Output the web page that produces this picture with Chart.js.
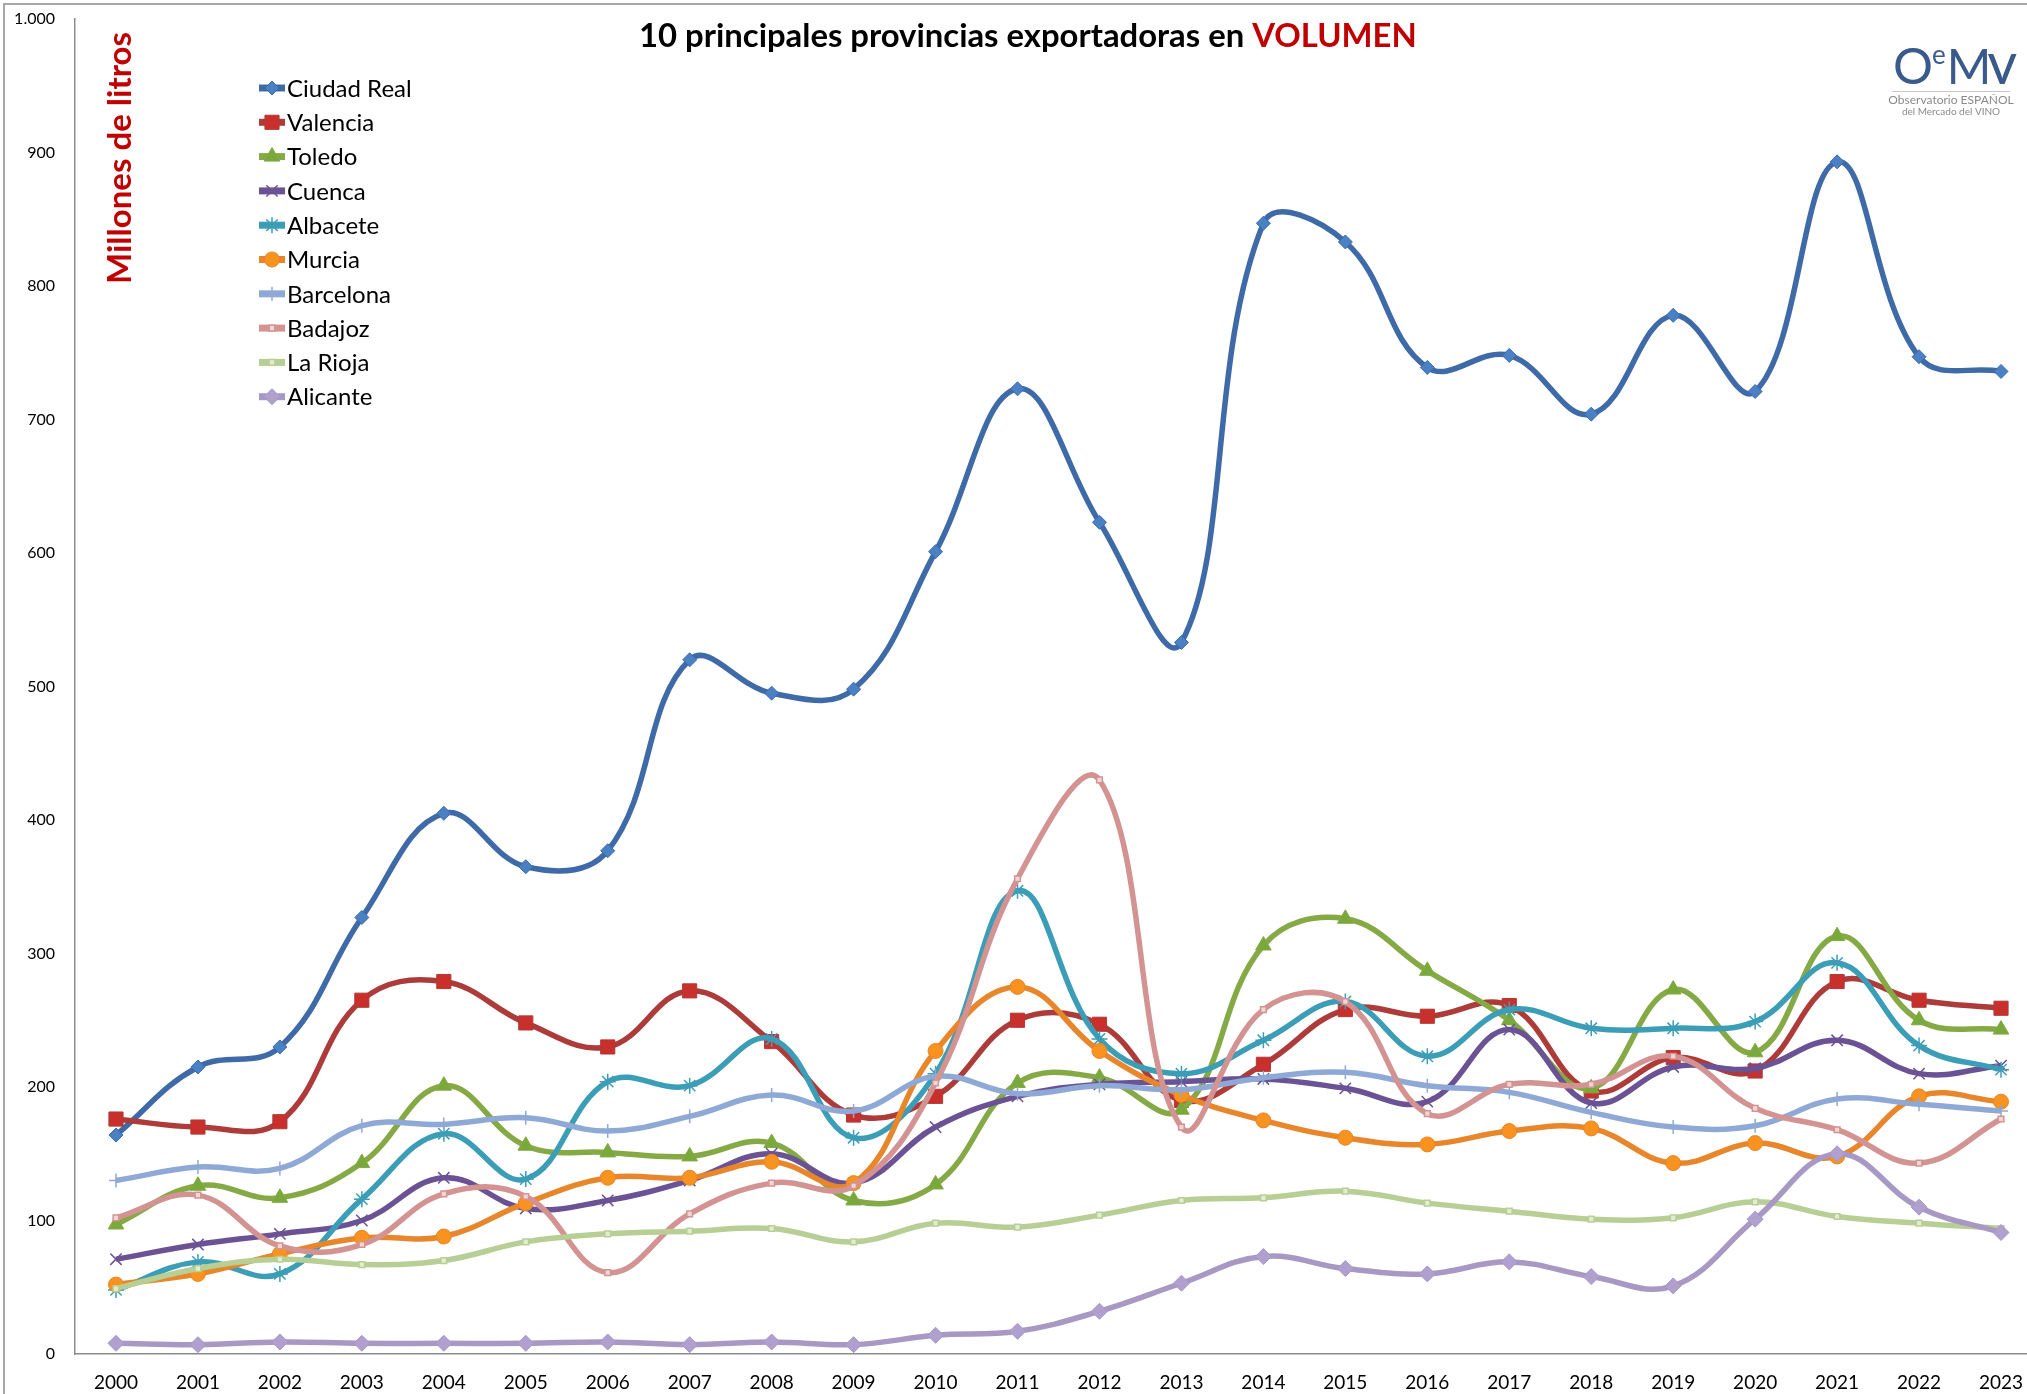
<!DOCTYPE html>
<html>
<head>
<meta charset="utf-8">
<script src="https://cdn.jsdelivr.net/npm/chart.js@4/dist/chart.umd.min.js"></script>
<style>
  html, body { margin: 0; padding: 0; background: #fff; overflow: hidden; }
  #wrap { position: absolute; left: 0; top: 0; width: 2053px; height: 1394px; }
</style>
</head>
<body>
<div id="wrap"><canvas id="chart"></canvas></div>
<script>
// años (eje X)
const years = ['2000','2001','2002','2003','2004','2005','2006','2007','2008','2009','2010','2011',
               '2012','2013','2014','2015','2016','2017','2018','2019','2020','2021','2022','2023'];

// millones de litros
const ciudadReal = [164, 215, 230, 327, 405, 365, 377, 520, 495, 498, 601, 723, 623, 533, 847, 833, 739, 748, 704, 778, 721, 893, 747, 736];
const valencia   = [176, 170, 174, 265, 279, 248, 230, 272, 234, 179, 193, 250, 247, 190, 217, 258, 253, 261, 197, 222, 212, 279, 265, 259];
const toledo     = [97, 126, 117, 143, 201, 156, 151, 148, 158, 115, 127, 203, 207, 183, 306, 326, 287, 250, 199, 273, 226, 313, 250, 243];
const cuenca     = [71, 82, 90, 100, 132, 109, 115, 130, 150, 128, 170, 193, 202, 204, 206, 199, 189, 243, 188, 215, 214, 235, 210, 216];
const albacete   = [48, 69, 60, 116, 165, 131, 204, 201, 236, 162, 210, 347, 236, 210, 235, 264, 223, 258, 244, 244, 249, 293, 231, 213];
const murcia     = [52, 60, 75, 87, 88, 113, 132, 132, 144, 128, 227, 275, 227, 194, 175, 162, 157, 167, 169, 143, 158, 148, 193, 189];
const barcelona  = [130, 140, 139, 171, 172, 177, 167, 178, 194, 182, 208, 195, 201, 198, 207, 211, 201, 196, 181, 170, 171, 191, 187, 182];
const badajoz    = [102, 119, 81, 82, 120, 118, 61, 105, 128, 126, 203, 356, 430, 170, 258, 264, 180, 202, 202, 223, 184, 168, 143, 176];
const laRioja    = [49, 64, 71, 67, 70, 84, 90, 92, 94, 84, 98, 95, 104, 115, 117, 122, 113, 107, 101, 102, 114, 103, 98, 94];
const alicante   = [8, 7, 9, 8, 8, 8, 9, 7, 9, 7, 14, 17, 32, 53, 73, 64, 60, 69, 58, 51, 101, 150, 110, 91];

const seriesNames  = ['Ciudad Real', 'Valencia', 'Toledo', 'Cuenca', 'Albacete', 'Murcia', 'Barcelona', 'Badajoz', 'La Rioja', 'Alicante'];
const seriesValues = [ciudadReal, valencia, toledo, cuenca, albacete, murcia, barcelona, badajoz, laRioja, alicante];

// estilo de cada serie (mismo orden que seriesNames)
const seriesStyle = [
  { line: '#3e6ba8', fill: '#4a80c4', shape: 'rectRot',  r: 7,   bw: 1 },
  { line: '#ad3b39', fill: '#c9302c', shape: 'rect',     r: 10,  bw: 1 },
  { line: '#84a945', fill: '#78a93a', shape: 'triangle', r: 9,   bw: 1 },
  { line: '#6a5294', fill: '#6a5294', shape: 'crossRot', r: 8,   bw: 1.5 },
  { line: '#3c9db7', fill: '#4aaccb', shape: 'star',     r: 8,   bw: 1.5 },
  { line: '#e8862c', fill: '#f7931e', shape: 'circle',   r: 7.5, bw: 1 },
  { line: '#8fa9d6', fill: '#8fa9d6', shape: 'cross',    r: 7,   bw: 1.5 },
  { line: '#d39392', fill: '#f2d6d6', shape: 'rect',     r: 4,   bw: 1.5 },
  { line: '#b7cf95', fill: '#e2edd0', shape: 'rect',     r: 4,   bw: 1.5 },
  { line: '#a898c4', fill: '#b0a0d0', shape: 'rectRot',  r: 8,   bw: 1 }
];

function fmtMiles(v) {
  if (v >= 1000) return Math.floor(v / 1000) + '.' + String(v % 1000).padStart(3, '0');
  return String(v);
}

const datasets = seriesNames.map((name, i) => ({
  label: name,
  data: seriesValues[i],
  borderColor: seriesStyle[i].line,
  backgroundColor: seriesStyle[i].fill,
  borderWidth: 5.5,
  tension: 0.4,
  pointStyle: seriesStyle[i].shape,
  pointRadius: seriesStyle[i].r,
  pointBackgroundColor: seriesStyle[i].fill,
  pointBorderColor: seriesStyle[i].line,
  pointBorderWidth: seriesStyle[i].bw,
  order: seriesNames.length - i,
  fill: false
}));

// titulo, eje Y, leyenda y logo dibujados a mano
const decor = {
  id: 'decor',
  beforeDraw(chart) {
    const ctx = chart.ctx;
    ctx.save();
    ctx.fillStyle = '#fff';
    ctx.fillRect(0, 0, chart.width, chart.height);
    ctx.strokeStyle = '#a6a6a6';
    ctx.lineWidth = 2;
    ctx.beginPath();
    ctx.moveTo(4, chart.height);
    ctx.lineTo(4, 4);
    ctx.lineTo(chart.width, 4);
    ctx.stroke();
    ctx.restore();
  },
  afterDraw(chart) {
    const ctx = chart.ctx;
    ctx.save();

    // titulo
    const t1 = '10 principales provincias exportadoras en ';
    const t2 = 'VOLUMEN';
    ctx.font = 'bold 100px Lato';
    const w100 = ctx.measureText(t1 + t2).width;
    const size = 100 * 778 / w100;
    ctx.font = 'bold ' + size + 'px Lato';
    const w1 = ctx.measureText(t1).width;
    const x0 = 639;
    ctx.textBaseline = 'alphabetic';
    ctx.textAlign = 'left';
    ctx.fillStyle = '#000';
    ctx.fillText(t1, x0, 47);
    ctx.fillStyle = '#c00000';
    ctx.fillText(t2, x0 + w1, 47);

    // titulo eje Y
    ctx.save();
    ctx.translate(131, 284);
    ctx.rotate(-Math.PI / 2);
    ctx.font = 'bold 33px Lato';
    ctx.fillStyle = '#c00000';
    ctx.fillText('Millones de litros', 0, 0);
    ctx.restore();

    // leyenda
    ctx.font = '24px Lato';
    ctx.textBaseline = 'middle';
    seriesNames.forEach((name, i) => {
      const st = seriesStyle[i];
      const y = 88 + i * 34.3;
      ctx.strokeStyle = st.line;
      ctx.lineWidth = 7;
      ctx.beginPath();
      ctx.moveTo(259, y);
      ctx.lineTo(285, y);
      ctx.stroke();
      ctx.fillStyle = st.fill;
      ctx.strokeStyle = st.line;
      ctx.lineWidth = st.bw;
      Chart.helpers.drawPoint(ctx, { pointStyle: st.shape, radius: st.r, borderWidth: st.bw, rotation: 0 }, 272, y);
      ctx.fillStyle = '#000';
      ctx.fillText(name, 287, y + 1);
    });

    // logo OeMv
    ctx.textBaseline = 'alphabetic';
    ctx.fillStyle = '#3a5a8c';
    ctx.font = '50px Lato';
    let lx = 1893;
    ctx.fillText('O', lx, 84);
    lx += ctx.measureText('O').width;
    ctx.font = '26px Lato';
    ctx.fillText('e', lx - 1, 64);
    lx += ctx.measureText('e').width;
    ctx.font = '48px Lato';
    ctx.fillText('M', lx, 84);
    lx += ctx.measureText('M').width - 4;
    ctx.font = '58px Lato';
    ctx.fillText('v', lx, 84);
    ctx.strokeStyle = '#c8c8c8';
    ctx.lineWidth = 1;
    ctx.beginPath();
    ctx.moveTo(1892, 91.5);
    ctx.lineTo(2010, 91.5);
    ctx.stroke();
    ctx.fillStyle = '#8a8a8a';
    ctx.textAlign = 'center';
    ctx.font = '12px Lato';
    ctx.fillText('Observatorio ESPAÑOL', 1951, 104);
    ctx.font = '10px Lato';
    ctx.fillText('del Mercado del VINO', 1951, 115);

    ctx.restore();
  }
};

function draw() {
  new Chart(document.getElementById('chart'), {
    type: 'line',
    data: { labels: years, datasets: datasets },
    options: {
      responsive: true,
      maintainAspectRatio: false,
      animation: false,
      layout: { padding: { top: 19, right: 4, bottom: 0, left: 0 } },
      plugins: {
        legend: { display: false },
        title: { display: false },
        tooltip: { enabled: false }
      },
      scales: {
        x: {
          offset: true,
          grid: { display: false, drawTicks: false },
          border: { display: true, color: '#8c8c8c', width: 1.5 },
          ticks: { color: '#000', font: { family: 'Lato', size: 19 }, padding: 17, maxRotation: 0, autoSkip: false },
          afterFit: s => { s.height = 40; s.paddingLeft = 0; s.paddingRight = 0; }
        },
        y: {
          min: 0,
          max: 1000,
          grid: { display: false, drawTicks: false },
          border: { display: true, color: '#8c8c8c', width: 1.5 },
          ticks: { stepSize: 100, color: '#000', font: { family: 'Lato', size: 16 }, padding: 20, callback: v => fmtMiles(v) },
          afterFit: s => { s.width = 75; s.paddingTop = 0; s.paddingBottom = 0; }
        }
      }
    },
    plugins: [decor]
  });
}

Promise.all([
  document.fonts.load('bold 30px Lato'),
  document.fonts.load('24px Lato')
]).then(draw, draw);
</script>
</body>
</html>
